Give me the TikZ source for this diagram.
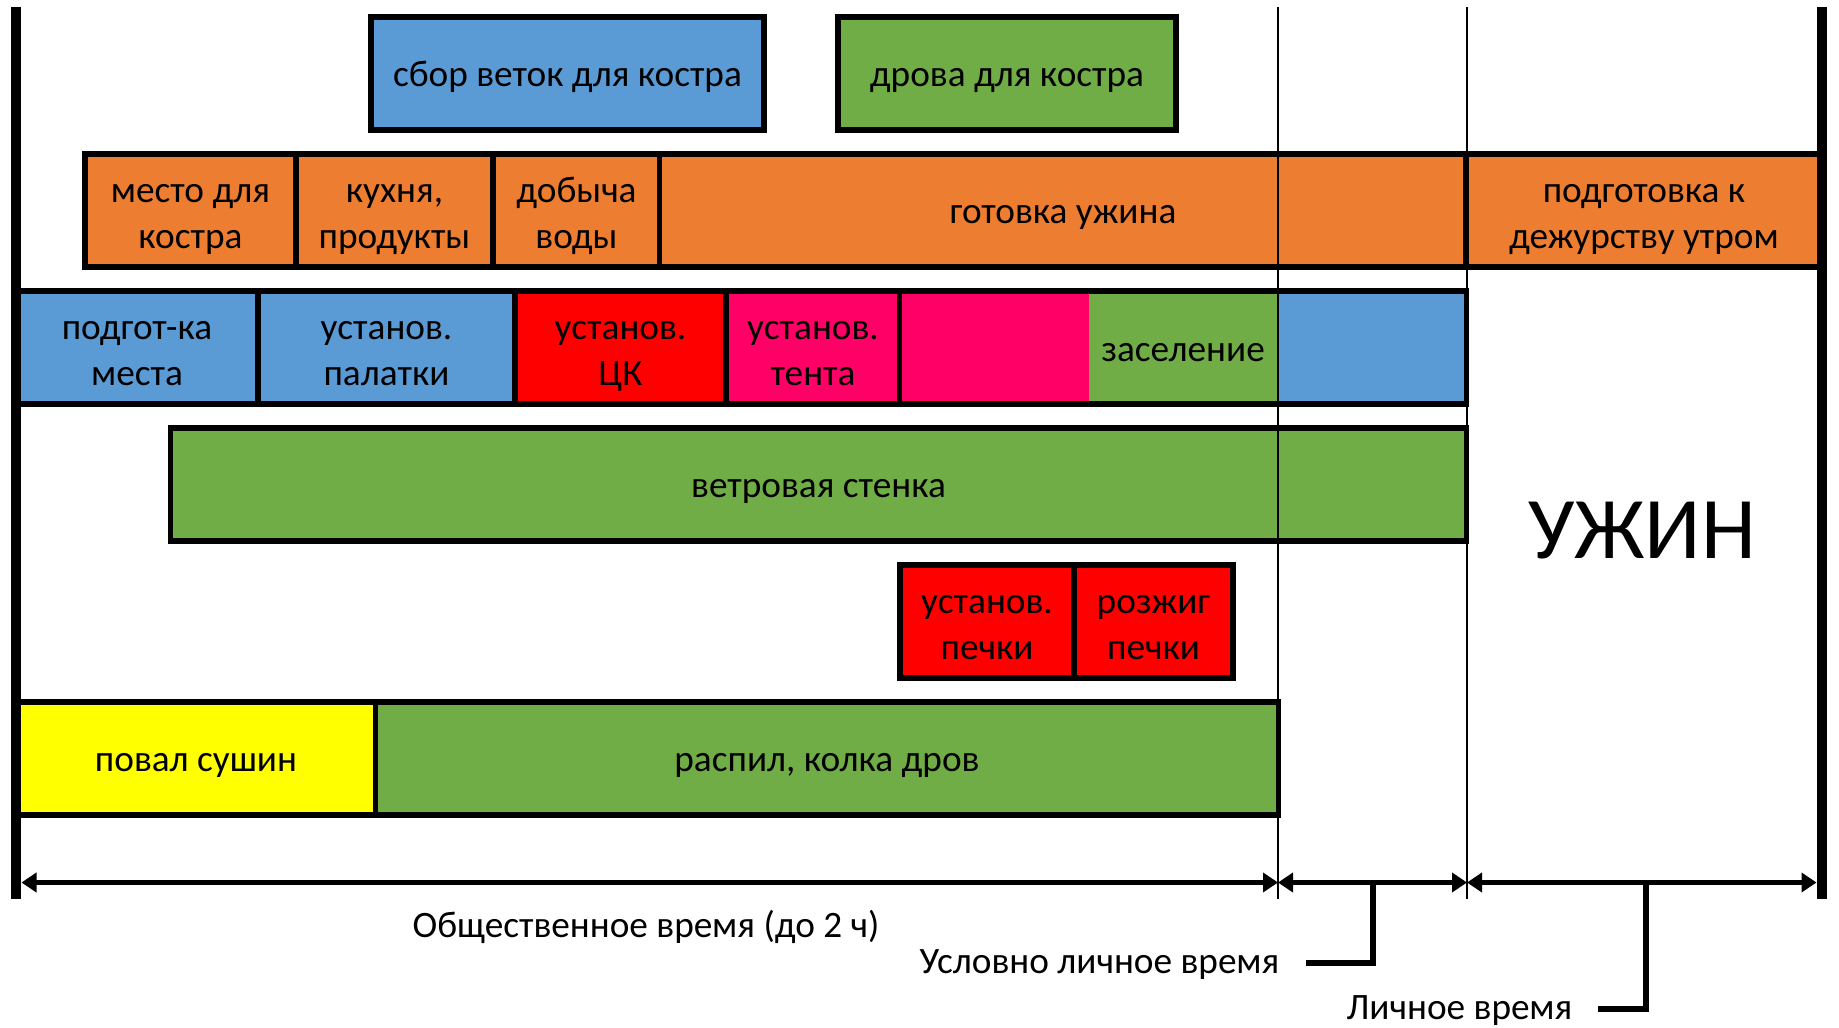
\documentclass[tikz,border=0pt]{standalone}
\usepackage{fontspec}
\setmainfont{Carlito}
\usetikzlibrary{arrows.meta}
\definecolor{cblue}{HTML}{5B9BD5}
\definecolor{corange}{HTML}{ED7D31}
\definecolor{cgreen}{HTML}{70AD47}
\definecolor{cred}{HTML}{FF0000}
\definecolor{cpink}{HTML}{FF0066}
\definecolor{cyellow}{HTML}{FFFF00}
\newcommand\txtfont{\fontsize{10.6}{13.2}\selectfont}
\newcommand\stt{\rule[-0.13em]{0pt}{1em}}
\newcommand\tline[2]{\rule[-0.13em]{0pt}{1.186em}#1\\#2\rule[-0.25em]{0pt}{1.2em}}
\begin{document}
\begin{tikzpicture}[x=0.01cm,y=-0.01cm,
  cellbox/.style={draw=black, line width=1.5pt, inner sep=0pt, minimum height=1.13cm, align=center, font=\txtfont},
  onebox/.style={cellbox, execute at begin node=\stt, execute at end node=\stt},
  thinline/.style={line width=0.6pt},
  sidebar/.style={line width=3.1pt},
  spanarr/.style={line width=1.7pt, {Triangle[length=0.15cm,width=0.19cm]}-{Triangle[length=0.15cm,width=0.19cm]}},
  conn/.style={line width=1.7pt},
  lbl/.style={font=\txtfont, inner ysep=0pt, inner xsep=0pt, text height=0.8em, text depth=0.2em}
]
\useasboundingbox (0,0) rectangle (1839,1027);

% Row 1
\node[onebox, fill=cblue, minimum width=3.93cm] (sbor) at (567.5,73.5) {сбор веток для костра};
\node[onebox, fill=cgreen, minimum width=3.38cm] (drova) at (1007,73.5) {дрова для костра};

% Row 2
\node[cellbox, fill=corange, minimum width=2.11cm] (mesto) at (190.5,210.5) {\tline{место для}{костра}};
\node[cellbox, fill=corange, minimum width=1.97cm] (kuhnya) at (394.5,210.5) {\tline{кухня,}{продукты}};
\node[cellbox, fill=corange, minimum width=1.67cm] (dobycha) at (576.5,210.5) {\tline{добыча}{воды}};
\node[onebox, fill=corange, minimum width=8.06cm] (gotovka) at (1063,210.5) {готовка ужина};
\node[cellbox, fill=corange, minimum width=3.56cm] (podg) at (1644,210.5) {\tline{подготовка к}{дежурству утром}};

% Row 3
\node[cellbox, fill=cblue, minimum width=2.42cm] (podgot) at (137,347.5) {\tline{подгот-ка}{места}};
\node[cellbox, fill=cblue, minimum width=2.57cm] (ustpal) at (386.5,347.5) {\tline{установ.}{палатки}};
\node[cellbox, fill=cred, minimum width=2.11cm] (ustck) at (620.5,347.5) {\tline{установ.}{ЦК}};
\node[cellbox, fill=cpink, minimum width=1.74cm] (usttent) at (813,347.5) {\tline{установ.}{тента}};
\fill[cpink] (900,291) rectangle (1089,404);
\fill[cgreen] (1089,291) rectangle (1278,404);
\fill[cblue] (1278,291) rectangle (1466,404);
\node[onebox, minimum width=5.66cm] (zasel) at (1183,347.5) {заселение};

% Row 4
\node[onebox, fill=cgreen, minimum width=12.95cm] (veter) at (818.5,484.5) {ветровая стенка};

% Row 5
\node[cellbox, fill=cred, minimum width=1.74cm] (ustpech) at (987,621.5) {\tline{установ.}{печки}};
\node[cellbox, fill=cred, minimum width=1.59cm] (rozhig) at (1153.5,621.5) {\tline{розжиг}{печки}};

% Row 6
\node[onebox, fill=cyellow, minimum width=3.60cm] (poval) at (196,758.5) {повал сушин};
\node[onebox, fill=cgreen, minimum width=9.02cm] (raspil) at (827,758.5) {распил, колка дров};

% big label
\node[font=\fontsize{25}{30}\selectfont, anchor=base, inner sep=0pt] (uzhin) at (1642,558) {УЖИН};

% vertical lines
\coordinate (t1) at (1278,7);
\coordinate (b1) at (1278,899);
\coordinate (t2) at (1467,7);
\coordinate (b2) at (1467,899);
\coordinate (tl) at (16,7);
\coordinate (bl) at (16,899);
\coordinate (tr) at (1822,7);
\coordinate (br) at (1822,899);
\draw[thinline] (t1) -- (b1);
\draw[thinline] (t2) -- (b2);
\draw[sidebar] (tl) -- (bl);
\draw[sidebar] (tr) -- (br);

% time spans
\coordinate (a0) at (21.5,882.5);
\coordinate (a1) at (1278,882.5);
\coordinate (a2) at (1467,882.5);
\coordinate (a3) at (1816.5,882.5);
\draw[spanarr] (a0) -- (a1);
\draw[spanarr] (a1) -- (a2);
\draw[spanarr] (a2) -- (a3);

% labels
\node[lbl, anchor=base] (obsh) at (646,937) {Общественное время (до 2 ч)};
\node[lbl, anchor=east, inner xsep=0.26cm] (uslov) at (1306,963) {Условно личное время};
\node[lbl, anchor=east, inner xsep=0.25cm] (lichn) at (1598,1009) {Личное время};
\coordinate (ua) at (1372.5,882.5);
\coordinate (la) at (1645.5,882.5);
\draw[conn] (uslov.east) -| (ua);
\draw[conn] (lichn.east) -| (la);
\end{tikzpicture}
\end{document}
